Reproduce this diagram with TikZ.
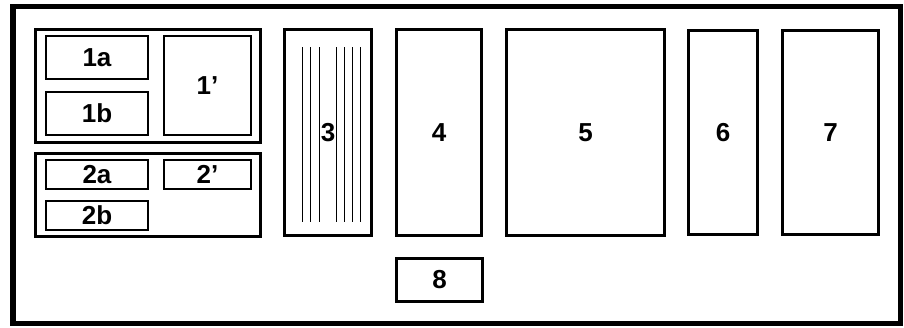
\documentclass[tikz,border=0pt]{standalone}
\usepackage{fontspec}
\setmainfont{Liberation Sans}
\begin{document}
\begin{tikzpicture}[x=1pt,y=-1pt,
  lbl/.style={font=\fontsize{26}{26}\selectfont\bfseries},
  grp/.style={draw, line width=2.7pt, inner sep=0pt, outer sep=0pt},
  sub/.style={draw, line width=1.7pt, inner sep=0pt, outer sep=0pt, lbl},
  big/.style={draw, line width=2.7pt, inner sep=0pt, outer sep=0pt, lbl},
  hatch/.style={line width=1.5pt}]
\useasboundingbox (0,0) rectangle (904,327);
\draw[line width=5.5pt] (13,6.3) rectangle (900.5,323.5);
% group 1
\node[grp, minimum width=225.2pt, minimum height=113.2pt] (g1) at (148,86) {};
\node[sub, minimum width=102.4pt, minimum height=43.4pt] (n1a) at (97,57.5) {1a};
\node[sub, minimum width=102.4pt, minimum height=43.4pt] (n1b) at (97,113.5) {1b};
\node[sub, minimum width=87.3pt, minimum height=99.3pt] (n1p) at (207.5,85.5) {1’};
% group 2
\node[grp, minimum width=225.2pt, minimum height=83.2pt] (g2) at (148,195) {};
\node[sub, minimum width=102.4pt, minimum height=29.3pt] (n2a) at (97,174.5) {2a};
\node[sub, minimum width=87.3pt, minimum height=29.3pt] (n2p) at (207.5,174.5) {2’};
\node[sub, minimum width=102.4pt, minimum height=29.3pt] (n2b) at (97,215.5) {2b};
% box 3 with lines
\foreach \xx in {302.7,310.7,319.3,336.7,344.7,352.7,360.7}
  \draw[hatch] (\xx,47) -- (\xx,222);
\node[big, minimum width=87.3pt, minimum height=206.3pt] (n3) at (328,132.5) {3};
\node[big, minimum width=85.3pt, minimum height=206.3pt] (n4) at (439,132.5) {4};
\node[big, minimum width=86.3pt, minimum height=43.3pt] (n8) at (439.5,280) {8};
\node[big, minimum width=158.3pt, minimum height=206.3pt] (n5) at (585.5,132.5) {5};
\node[big, minimum width=69.3pt, minimum height=204.3pt] (n6) at (723,132.5) {6};
\node[big, minimum width=96.3pt, minimum height=204.3pt] (n7) at (830.5,132.5) {7};
\end{tikzpicture}
\end{document}
